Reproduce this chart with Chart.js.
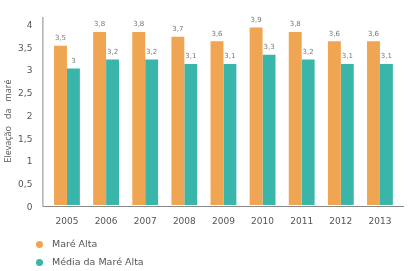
<!DOCTYPE html>
<html><head><meta charset="utf-8">
<script src="https://cdn.jsdelivr.net/npm/chart.js@4"></script>
<style>
html,body{margin:0;padding:0;background:#fff;}
#wrap{position:relative;width:412px;height:271px;}
#legend{position:absolute;left:36px;top:235px;font:9.5px "DejaVu Sans",sans-serif;color:#555;}
.li{height:18px;line-height:14px;display:flex;align-items:center;}
.dot{width:7px;height:7px;border-radius:50%;margin-right:9px;}
</style></head>
<body><div id="wrap"><canvas id="c" width="412" height="271"></canvas><div id="legend"></div></div>
<script>
const categories = ["2005","2006","2007","2008","2009","2010","2011","2012","2013"];
const mareAlta = [3.5,3.8,3.8,3.7,3.6,3.9,3.8,3.6,3.6];
const mediaMareAlta = [3.0,3.2,3.2,3.1,3.1,3.3,3.2,3.1,3.1];
const seriesNames = ["Maré Alta","Média da Maré Alta"];
const yTitle = "Elevação   da   maré";
const colors = ["#EFA552","#39B5AA"];
const fmt = v => String(v).replace('.', ',');

const valueLabels = {
  id:'valueLabels',
  afterDatasetsDraw(chart){
    const ctx = chart.ctx;
    ctx.save();
    ctx.font = '7px "DejaVu Sans", sans-serif';
    ctx.fillStyle = '#777';
    ctx.textAlign = 'center';
    ctx.textBaseline = 'bottom';
    chart.data.datasets.forEach((ds,i)=>{
      chart.getDatasetMeta(i).data.forEach((bar,j)=>{
        ctx.fillText(fmt(ds.data[j]), bar.x, bar.y - 4);
      });
    });
    ctx.restore();
  }
};
const axisLines = {
  id:'axisLines',
  beforeDatasetsDraw(chart){
    const {ctx, chartArea:a} = chart;
    ctx.save();
    ctx.strokeStyle = '#888';
    ctx.lineWidth = 1;
    ctx.beginPath();
    ctx.moveTo(a.left-4.5, a.top-6);
    ctx.lineTo(a.left-4.5, a.bottom+1.5);
    ctx.lineTo(a.right+4.5, a.bottom+1.5);
    ctx.stroke();
    ctx.restore();
  }
};

new Chart(document.getElementById('c'), {
  type:'bar',
  data:{
    labels: categories,
    datasets:[
      {label:seriesNames[0], data:mareAlta, backgroundColor:colors[0], barPercentage:1, categoryPercentage:0.66},
      {label:seriesNames[1], data:mediaMareAlta, backgroundColor:colors[1], barPercentage:1, categoryPercentage:0.66}
    ]
  },
  options:{
    responsive:false, animation:false,
    layout:{padding:{top:23,right:12.5,left:0,bottom:0}},
    plugins:{legend:{display:false}, tooltip:{enabled:false}},
    scales:{
      x:{
        grid:{display:false}, border:{display:false},
        ticks:{color:'#555', font:{family:'DejaVu Sans', size:9}, padding:3, maxRotation:0},
        afterFit(s){ s.height = 66; }
      },
      y:{
        min:0, max:4,
        grid:{display:false, drawTicks:false}, border:{display:false},
        ticks:{stepSize:0.5, color:'#555', font:{family:'DejaVu Sans', size:9}, padding:15, labelOffset:2.5, callback:v=>fmt(v)},
        title:{display:true, text:yTitle + '      ', color:'#555', font:{family:'Open Sans', size:9}, padding:{top:3,bottom:0}},
        afterFit(s){ s.width = 47.4; }
      }
    }
  },
  plugins:[valueLabels, axisLines]
});

const lg = document.getElementById('legend');
seriesNames.forEach((n,i)=>{
  const d = document.createElement('div'); d.className='li';
  d.innerHTML = '<span class="dot" style="background:'+colors[i]+'"></span><span>'+n+'</span>';
  lg.appendChild(d);
});
</script></body></html>
